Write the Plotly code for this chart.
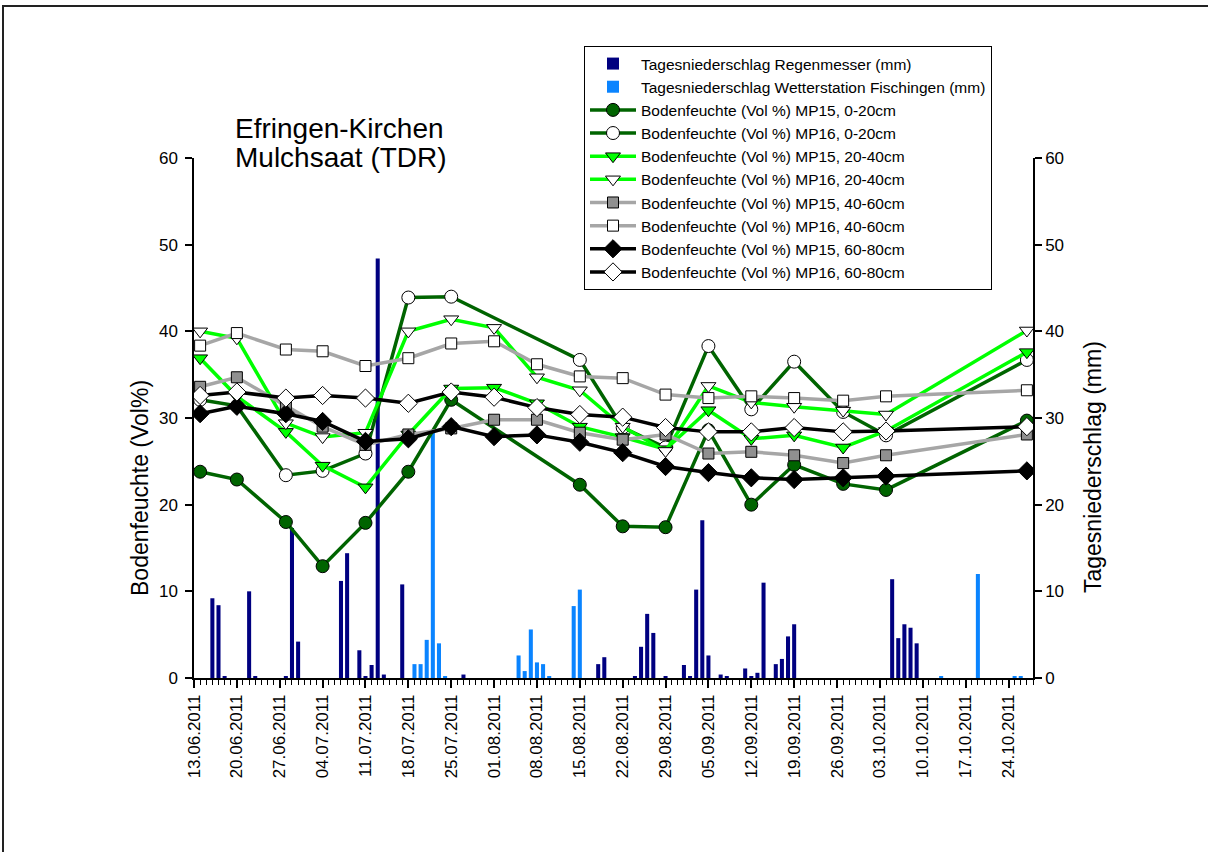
import plotly.graph_objects as go

# ---------------- data ----------------
meas_dates = ['2011-06-14', '2011-06-20', '2011-06-28', '2011-07-04', '2011-07-11', '2011-07-18',
              '2011-07-25', '2011-08-01', '2011-08-08', '2011-08-15', '2011-08-22', '2011-08-29',
              '2011-09-05', '2011-09-12', '2011-09-19', '2011-09-27', '2011-10-04', '2011-10-27']

mp15_0_20 = [23.8, 22.9, 18.0, 12.9, 17.9, 23.8, 32.1, None, None, 22.3, 17.5, 17.4, 28.6, 20.0, 24.6, 22.4, 21.7, 29.7]
mp16_0_20 = [32.1, 31.4, 23.4, 23.9, 25.9, 43.9, 44.0, None, None, 36.7, 28.9, 26.6, 38.3, 31.0, 36.5, 30.7, 28.0, 36.7]
mp15_20_40 = [36.9, 32.5, 28.4, 24.5, 22.0, 28.1, 33.4, 33.5, 31.7, 29.0, 27.8, 26.4, 30.9, 27.6, 28.0, 26.6, 28.5, 37.6]
mp16_20_40 = [40.0, 39.2, 29.4, 27.8, 28.3, 40.0, 41.4, 40.4, 34.7, 33.2, 29.0, 26.2, 33.7, 31.8, 31.3, 30.85, 30.4, 40.1]
mp15_40_60 = [33.6, 34.7, 31.4, 29.0, 26.9, 28.1, 28.8, 29.8, 29.8, 28.3, 27.5, 28.1, 25.9, 26.1, 25.7, 24.8, 25.7, 28.1]
mp16_40_60 = [38.35, 39.8, 37.9, 37.7, 36.0, 36.9, 38.6, 38.85, 36.2, 34.8, 34.6, 32.7, 32.3, 32.5, 32.3, 32.0, 32.5, 33.2]
mp15_60_80 = [30.5, 31.35, 30.5, 29.6, 27.3, 27.6, 29.0, 27.85, 28.05, 27.2, 26.0, 24.4, 23.7, 23.1, 22.9, 23.1, 23.3, 23.9]
mp16_60_80 = [32.6, 33.0, 32.3, 32.6, 32.3, 31.7, 33.0, 32.4, 31.2, 30.4, 30.1, 28.9, 28.4, 28.4, 28.9, 28.4, 28.5, 29.0]

gauge_dates = ['2011-06-16', '2011-06-17', '2011-06-18', '2011-06-22', '2011-06-23', '2011-06-28',
               '2011-06-29', '2011-06-30', '2011-07-07', '2011-07-08', '2011-07-10', '2011-07-11',
               '2011-07-12', '2011-07-13', '2011-07-14', '2011-07-17', '2011-07-27', '2011-08-18',
               '2011-08-19', '2011-08-24', '2011-08-25', '2011-08-26', '2011-08-27', '2011-08-29',
               '2011-09-01', '2011-09-02', '2011-09-03', '2011-09-04', '2011-09-05', '2011-09-07',
               '2011-09-08', '2011-09-11', '2011-09-12', '2011-09-13', '2011-09-14', '2011-09-16',
               '2011-09-17', '2011-09-18', '2011-09-19', '2011-10-05', '2011-10-06', '2011-10-07',
               '2011-10-08', '2011-10-09']
gauge_mm = [9.2, 8.4, 0.2, 10.0, 0.2, 0.2,
            17.3, 4.2, 11.2, 14.4, 3.2, 0.2,
            1.5, 48.4, 0.4, 10.8, 0.4, 1.6,
            2.4, 0.2, 3.6, 7.4, 5.2, 0.2,
            1.5, 0.2, 10.2, 18.2, 2.6, 0.4,
            0.2, 1.1, 0.2, 0.6, 11.0, 1.6,
            2.2, 4.8, 6.2, 11.4, 4.6, 6.2,
            5.8, 4.0]

station_dates = ['2011-07-19', '2011-07-20', '2011-07-21', '2011-07-22', '2011-07-23', '2011-07-24',
                 '2011-08-05', '2011-08-06', '2011-08-07', '2011-08-08', '2011-08-09', '2011-08-10',
                 '2011-08-14', '2011-08-15', '2011-10-13', '2011-10-19', '2011-10-25', '2011-10-26']
station_mm = [1.6, 1.6, 4.4, 28.4, 4.0, 0.2,
              2.6, 0.8, 5.6, 1.8, 1.6, 0.2,
              8.3, 10.2, 0.2, 12.0, 0.2, 0.2]

x_range = ['2011-06-13', '2011-10-28']
y_ticks = [0, 10, 20, 30, 40, 50, 60]

# ---------------- figure ----------------
FONT = 'Arial, Liberation Sans, sans-serif'
DKGREEN = '#006400'
LIME = '#00ff00'
GRAY = '#a6a6a6'

fig = go.Figure()
fig.add_trace(go.Bar(x=gauge_dates, y=gauge_mm, name='Tagesniederschlag Regenmesser (mm)',
                     marker=dict(color='#000080', line=dict(width=0)), yaxis='y'))
fig.add_trace(go.Bar(x=station_dates, y=station_mm, name='Tagesniederschlag Wetterstation Fischingen (mm)',
                     marker=dict(color='#0a84ff', line=dict(width=0)), yaxis='y'))

series = [
    ('Bodenfeuchte (Vol %) MP15, 0-20cm', mp15_0_20, DKGREEN, 'circle', DKGREEN, 13),
    ('Bodenfeuchte (Vol %) MP16, 0-20cm', mp16_0_20, DKGREEN, 'circle', 'white', 13),
    ('Bodenfeuchte (Vol %) MP15, 20-40cm', mp15_20_40, LIME, 'triangle-down', LIME, 13),
    ('Bodenfeuchte (Vol %) MP16, 20-40cm', mp16_20_40, LIME, 'triangle-down', 'white', 13),
    ('Bodenfeuchte (Vol %) MP15, 40-60cm', mp15_40_60, GRAY, 'square', '#909090', 11),
    ('Bodenfeuchte (Vol %) MP16, 40-60cm', mp16_40_60, GRAY, 'square', 'white', 11),
    ('Bodenfeuchte (Vol %) MP15, 60-80cm', mp15_60_80, 'black', 'diamond', 'black', 14),
    ('Bodenfeuchte (Vol %) MP16, 60-80cm', mp16_60_80, 'black', 'diamond', 'white', 14),
]
for name, vals, lc, sym, fc, sz in series:
    fig.add_trace(go.Scatter(x=meas_dates, y=vals, name=name, mode='lines+markers', yaxis='y2',
                             connectgaps=True,
                             line=dict(color=lc, width=3.5),
                             marker=dict(symbol=sym, size=sz, color=fc,
                                         line=dict(color='black', width=1))))

L, R, T, B = 194, 175, 158, 174
W, H = 1208, 852
pw, ph = W - L - R, H - T - B


def px(xp):
    return (xp - L) / pw


def py(yp):
    return (H - B - yp) / ph


yaxis_common = dict(range=[0, 60], tickvals=y_ticks, showline=True, linecolor='black', linewidth=1.5,
                    ticks='outside', ticklen=7, tickwidth=1.5, tickcolor='black',
                    tickfont=dict(size=17, color='black', family=FONT),
                    showgrid=False, zeroline=False, fixedrange=True)

fig.update_layout(
    width=W, height=H,
    margin=dict(l=L, r=R, t=T, b=B, pad=0),
    paper_bgcolor='white', plot_bgcolor='white',
    font=dict(family=FONT, color='black'),
    barmode='group', bargap=0.34, bargroupgap=0,
    showlegend=True,
    legend=dict(x=px(584), y=py(46), xanchor='left', yanchor='top',
                bordercolor='black', borderwidth=1, bgcolor='white',
                font=dict(size=15.5, family=FONT, color='black'),
                itemwidth=46, tracegroupgap=0),
    xaxis=dict(type='date', range=x_range, showline=True, linecolor='black', linewidth=1.5,
               ticks='outside', ticklen=8, tickwidth=1.5, tickcolor='black',
               tick0='2011-06-13', dtick=7 * 86400000, tickformat='%d.%m.%Y', tickangle=-90,
               tickfont=dict(size=17, color='black', family=FONT),
               minor=dict(dtick=86400000, tick0='2011-06-13', ticks='outside', ticklen=5,
                          tickwidth=1, tickcolor='black', showgrid=False),
               showgrid=False, zeroline=False),
    yaxis=dict(side='right', anchor='x', **yaxis_common),
    yaxis2=dict(side='left', overlaying='y', anchor='x', ticklabelstandoff=4, **yaxis_common),
)

# axis titles and chart title
fig.add_annotation(text='Bodenfeuchte (Vol%)', x=px(140), y=py(488), xref='paper', yref='paper',
                   xanchor='center', yanchor='middle',
                   textangle=-90, showarrow=False, font=dict(size=23, family=FONT, color='black'))
fig.add_annotation(text='Tagesniederschlag (mm)', x=px(1093), y=py(467), xref='paper', yref='paper',
                   xanchor='center', yanchor='middle',
                   textangle=-90, showarrow=False, font=dict(size=23, family=FONT, color='black'))
fig.add_annotation(text='Efringen-Kirchen', x=px(233), y=py(128), xref='paper', yref='paper',
                   xanchor='left', yanchor='middle', showarrow=False,
                   font=dict(size=28, family=FONT, color='black'))
fig.add_annotation(text='Mulchsaat (TDR)', x=px(233), y=py(157), xref='paper', yref='paper',
                   xanchor='left', yanchor='middle', showarrow=False,
                   font=dict(size=28, family=FONT, color='black'))

# outer frame (only the top and left edges are visible in the picture)
frame = dict(color='#222222', width=2)
fig.add_shape(type='line', xref='paper', yref='paper', x0=px(2), y0=py(6), x1=px(1400), y1=py(6), line=frame)
fig.add_shape(type='line', xref='paper', yref='paper', x0=px(3), y0=py(5), x1=px(3), y1=py(1000), line=frame)

fig.write_html('out.html', config={'displayModeBar': False},
               post_script="document.body.style.margin='0';document.body.style.overflow='hidden';")
